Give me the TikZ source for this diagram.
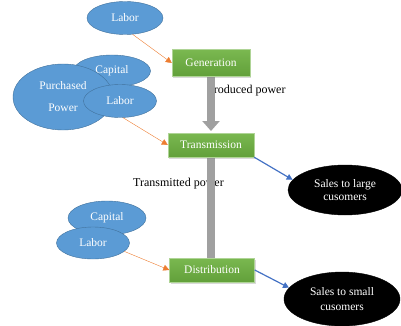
\documentclass[tikz,border=0pt]{standalone}
\usepackage{fontspec}
\setmainfont{Liberation Serif}
\usepackage{tikz}
\usetikzlibrary{shapes.geometric, arrows.meta, shadows}
\definecolor{blue1}{RGB}{91, 155, 213}
\definecolor{blue2}{RGB}{65, 113, 156}
\definecolor{blue3}{RGB}{68, 114, 196}
\definecolor{green1}{RGB}{122, 184, 80}
\definecolor{green2}{RGB}{98, 160, 58}
\definecolor{orange1}{RGB}{237, 125, 49}
\definecolor{gray1}{RGB}{160, 160, 160}

\tikzset{
  input/.style={ellipse, draw=blue2, fill=blue1, text=white, inner sep=0pt,
    font=\fontsize{11.5}{13}\selectfont, align=center},
  stage/.style={rectangle, draw=green1!60!white, top color=green1, bottom color=green2,
    text=white, inner sep=0pt, font=\fontsize{11.5}{13}\selectfont,
    drop shadow={opacity=0.3, shadow xshift=1pt, shadow yshift=-1.5pt}},
  sales/.style={ellipse, draw=black, fill=black, text=white, inner sep=0pt,
    font=\fontsize{11.5}{13}\selectfont, align=center},
  feed/.style={draw=orange1, -{Triangle[width=6pt,length=6pt]}},
  sell/.style={draw=blue3, line width=1.2pt, -{Triangle[width=6pt,length=6pt]}},
  flow/.style={draw=gray1, line width=8pt},
  flowlabel/.style={anchor=west, inner sep=0pt, font=\fontsize{12}{14}\selectfont}
}

\begin{document}
\begin{tikzpicture}[x=1pt, y=-1pt]
  \useasboundingbox (0,0) rectangle (401,326);

  % flow labels (partly hidden by the flows)
  \node[flowlabel] (prodLabel) at (207,91) {Produced power};
  \node[flowlabel] (transLabel) at (133,184) {Transmitted power};

  % inputs
  \node[input, minimum width=76pt, minimum height=33pt] (labGen) at (125,18) {Labor};
  \node[input, minimum width=77pt, minimum height=32pt] (capTrans) at (112,71) {Capital};
  \node[input, minimum width=100pt, minimum height=66pt] (ppTrans) at (63,97) {Purchased\\[9pt]Power};
  \node[input, minimum width=73pt, minimum height=33pt] (labTrans) at (120,101) {Labor};
  \node[input, minimum width=78pt, minimum height=34pt] (capDist) at (107,218) {Capital};
  \node[input, minimum width=73pt, minimum height=32pt] (labDist) at (93,243) {Labor};

  % power flows
  \coordinate (genBot) at (211,77);
  \coordinate (transTop) at (211,131);
  \coordinate (transBot) at (211,157);
  \coordinate (distTop) at (211,260);
  \draw[flow, -{Triangle[width=17pt,length=10pt]}] (genBot) -- (transTop);
  \draw[flow] (transBot) -- (distTop);

  % stages
  \node[stage, minimum width=78pt, minimum height=27pt] (gen) at (211,63) {Generation};
  \node[stage, minimum width=86pt, minimum height=24pt] (trans) at (211,145) {Transmission};
  \node[stage, minimum width=85pt, minimum height=24pt] (dist) at (212,270) {Distribution};

  % customers
  \node[sales, minimum width=114pt, minimum height=50pt] (salesLarge) at (345,190) {Sales to large\\cusomers};
  \node[sales, minimum width=116pt, minimum height=54pt] (salesSmall) at (342,299) {Sales to small\\[2pt]cusomers};

  \draw[feed] (labGen.-65) -- (gen.west);
  \draw[feed] (labTrans.-80) -- (trans.west);
  \draw[feed] (labDist.-15) -- (dist.west);
  \draw[sell] (trans.south east) -- (salesLarge.169);
  \draw[sell] (dist.east) -- (salesSmall.168);
\end{tikzpicture}
\end{document}
